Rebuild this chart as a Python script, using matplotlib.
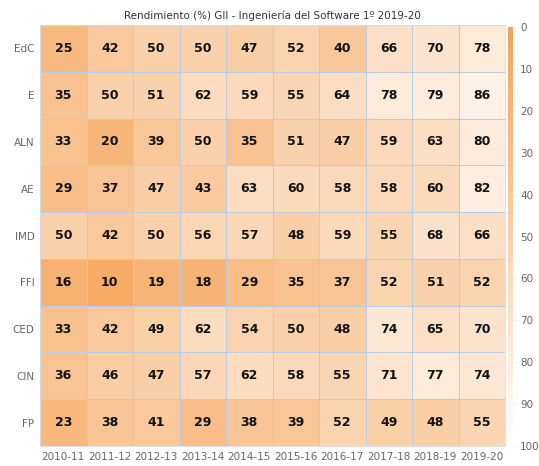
import numpy as np
import matplotlib
matplotlib.use("Agg")
import matplotlib.pyplot as plt
from matplotlib.colors import LinearSegmentedColormap, Normalize
from matplotlib.cm import ScalarMappable

subjects = ["EdC", "E", "ALN", "AE", "IMD", "FFI", "CED", "CIN", "FP"]
years = ["2010-11", "2011-12", "2012-13", "2013-14", "2014-15",
         "2015-16", "2016-17", "2017-18", "2018-19", "2019-20"]
EdC = [25, 42, 50, 50, 47, 52, 40, 66, 70, 78]
E   = [35, 50, 51, 62, 59, 55, 64, 78, 79, 86]
ALN = [33, 20, 39, 50, 35, 51, 47, 59, 63, 80]
AE  = [29, 37, 47, 43, 63, 60, 58, 58, 60, 82]
IMD = [50, 42, 50, 56, 57, 48, 59, 55, 68, 66]
FFI = [16, 10, 19, 18, 29, 35, 37, 52, 51, 52]
CED = [33, 42, 49, 62, 54, 50, 48, 74, 65, 70]
CIN = [36, 46, 47, 57, 62, 58, 55, 71, 77, 74]
FP  = [23, 38, 41, 29, 38, 39, 52, 49, 48, 55]
values = np.array([EdC, E, ALN, AE, IMD, FFI, CED, CIN, FP])

cmap = LinearSegmentedColormap.from_list("o", ["#f5a257", "#ffffff"])
norm = Normalize(0, 100)

fig = plt.figure(figsize=(5.39, 4.66), dpi=100)
ax = fig.add_axes([40/539, 1-446/466, 465/539, 421/466])
ax.pcolormesh(values, cmap=cmap, norm=norm, edgecolors="#b8cce4", linewidth=0.5)
ax.set_xlim(0, len(years))
ax.set_ylim(len(subjects), 0)
for i in range(len(subjects)):
    for j in range(len(years)):
        ax.text(j + 0.5, i + 0.5, str(values[i, j]), ha="center", va="center",
                fontsize=9, fontweight="bold", color="#111111")
ax.set_xticks(np.arange(len(years)) + 0.5)
ax.set_xticklabels(years)
ax.set_yticks(np.arange(len(subjects)) + 0.5)
ax.set_yticklabels(subjects)
ax.tick_params(length=0, labelsize=7.5, labelcolor="#666666", pad=4)
for s in ax.spines.values():
    s.set_color("#dddddd")
    s.set_linewidth(0.6)
ax.set_title("Rendimiento (%) GII - Ingeniería del Software 1º 2019-20",
             fontsize=7.5, color="#333333", pad=4)

cax = fig.add_axes([508/539, 1-446/466, 5/539, 419/466])
cb = fig.colorbar(ScalarMappable(norm=norm, cmap=cmap), cax=cax)
cb.outline.set_visible(False)
cax.invert_yaxis()
cb.set_ticks(np.arange(0, 101, 10))
cax.tick_params(labelsize=7.5, labelcolor="#666666", color="#eeeeee", length=3, width=0.6, pad=2)

fig.savefig("out.png", dpi=100)
